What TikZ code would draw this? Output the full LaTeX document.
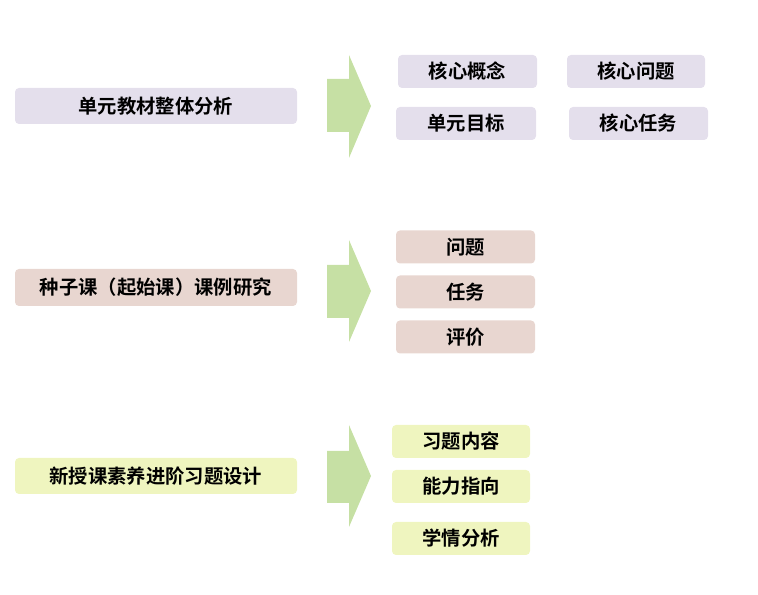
\documentclass[tikz,border=0pt]{standalone}
\usepackage{fontspec}
\newfontfamily\cjk{Noto Sans CJK SC}[BoldFont={* Bold}]
\definecolor{lav}{HTML}{E4DFEC}
\definecolor{pinkb}{HTML}{E8D6D0}
\definecolor{yel}{HTML}{EFF5BF}
\definecolor{arrg}{HTML}{C6E0A4}
\begin{document}
\begin{tikzpicture}[x=0.75pt,y=-0.75pt,
  box/.style={rounded corners=3pt,inner sep=0pt,font=\cjk\bfseries\fontsize{14.5}{16}\selectfont,text=black},
  bigarrow/.style={fill=arrg,draw=none}]
\useasboundingbox (0,0) rectangle (758,595);
% Row 1
\node[box,fill=lav,minimum width=282*0.75pt,minimum height=36*0.75pt] (m1) at (156,106) {单元教材整体分析};
\fill[bigarrow] (327,79) -- (349,79) -- (349,55) -- (371,106) -- (349,158) -- (349,132) -- (327,132) -- cycle;
\node[box,fill=lav,minimum width=139*0.75pt,minimum height=33*0.75pt] (a1) at (467.5,71.5) {核心概念};
\node[box,fill=lav,minimum width=138*0.75pt,minimum height=33*0.75pt] (a2) at (636,71.5) {核心问题};
\node[box,fill=lav,minimum width=140*0.75pt,minimum height=33*0.75pt] (a3) at (466,123.5) {单元目标};
\node[box,fill=lav,minimum width=139*0.75pt,minimum height=33*0.75pt] (a4) at (638.5,123.5) {核心任务};
% Row 2
\node[box,fill=pinkb,minimum width=282*0.75pt,minimum height=37*0.75pt] (m2) at (156,287.5) {种子课（起始课）课例研究};
\fill[bigarrow] (327,265) -- (349,265) -- (349,240) -- (371,291) -- (349,342) -- (349,318) -- (327,318) -- cycle;
\node[box,fill=pinkb,minimum width=139*0.75pt,minimum height=33*0.75pt] (b1) at (465.5,247) {问题};
\node[box,fill=pinkb,minimum width=139*0.75pt,minimum height=33*0.75pt] (b2) at (465.5,292) {任务};
\node[box,fill=pinkb,minimum width=139*0.75pt,minimum height=33*0.75pt] (b3) at (465.5,337) {评价};
% Row 3
\node[box,fill=yel,minimum width=282*0.75pt,minimum height=36*0.75pt] (m3) at (156,476) {新授课素养进阶习题设计};
\fill[bigarrow] (327,451) -- (349,451) -- (349,425) -- (371,476) -- (349,527) -- (349,503) -- (327,503) -- cycle;
\node[box,fill=yel,minimum width=138*0.75pt,minimum height=33*0.75pt] (c1) at (461,441.5) {习题内容};
\node[box,fill=yel,minimum width=138*0.75pt,minimum height=33*0.75pt] (c2) at (461,486.5) {能力指向};
\node[box,fill=yel,minimum width=138*0.75pt,minimum height=33*0.75pt] (c3) at (461,538.5) {学情分析};
\end{tikzpicture}
\end{document}
